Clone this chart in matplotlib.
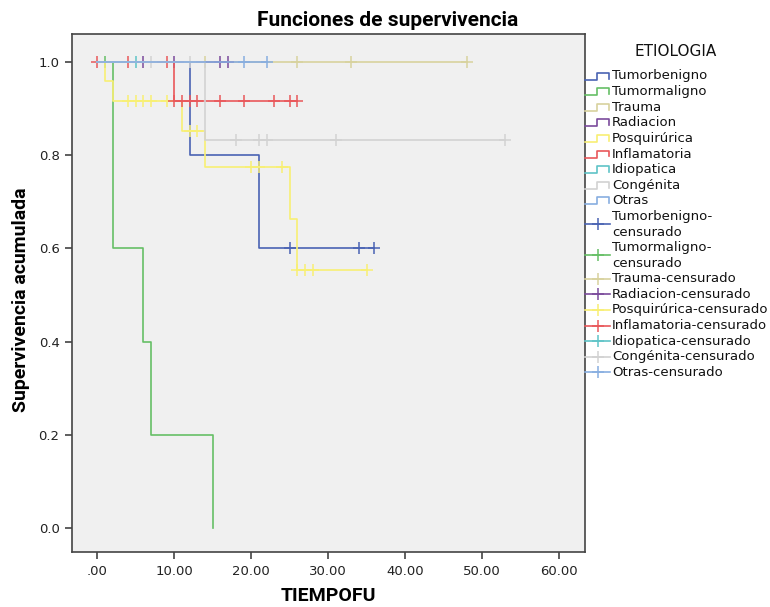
import numpy as np
import matplotlib.pyplot as plt
from matplotlib.lines import Line2D

W, H = 770, 607

groups = ['Tumorbenigno', 'Tumormaligno', 'Trauma', 'Radiacion', 'Posquirúrica',
          'Inflamatoria', 'Idiopatica', 'Congénita', 'Otras']
colors = ['#4a63b3', '#66bf66', '#d8d29e', '#7b4b9c', '#f8ef74',
          '#e9585b', '#5fc4c7', '#d2d2d2', '#88aee0']

# step points of each survival curve (time, survival after that time)
step_t = {
    'Tumorbenigno': [0, 12, 21, 36],
    'Tumormaligno': [0, 2, 6, 7, 15],
    'Trauma': [0, 48],
    'Radiacion': [0, 17],
    'Posquirúrica': [0, 1, 2, 11, 14, 25, 26, 35],
    'Inflamatoria': [0, 10, 26],
    'Idiopatica': [0, 5],
    'Congénita': [0, 14, 53],
    'Otras': [0, 22],
}
step_s = {
    'Tumorbenigno': [1.0, 0.8, 0.6, 0.6],
    'Tumormaligno': [1.0, 0.6, 0.4, 0.2, 0.0],
    'Trauma': [1.0, 1.0],
    'Radiacion': [1.0, 1.0],
    'Posquirúrica': [1.0, 0.9583, 0.9167, 0.8512, 0.7738, 0.6633, 0.5527, 0.5527],
    'Inflamatoria': [1.0, 0.9167, 0.9167],
    'Idiopatica': [1.0, 1.0],
    'Congénita': [1.0, 0.8333, 0.8333],
    'Otras': [1.0, 1.0],
}
# censored times
cens_t = {
    'Tumorbenigno': [25, 34, 36],
    'Tumormaligno': [1],
    'Trauma': [14, 26, 33, 48],
    'Radiacion': [6, 10, 16, 17],
    'Posquirúrica': [4, 5, 6, 7, 9, 12, 13, 20, 21, 24, 26, 27, 28, 35],
    'Inflamatoria': [0, 4, 9, 10, 11, 12, 13, 16, 19, 23, 25, 26],
    'Idiopatica': [5],
    'Congénita': [7, 12, 18, 21, 22, 31, 53],
    'Otras': [19, 22],
}

x_ticks = [0, 10, 20, 30, 40, 50, 60]
x_ticklabels = ['.00', '10.00', '20.00', '30.00', '40.00', '50.00', '60.00']
y_ticks = [0.0, 0.2, 0.4, 0.6, 0.8, 1.0]

legend_cens = ['Tumorbenigno-\ncensurado', 'Tumormaligno-\ncensurado', 'Trauma-censurado',
               'Radiacion-censurado', 'Posquirúrica-censurado', 'Inflamatoria-censurado',
               'Idiopatica-censurado', 'Congénita-censurado', 'Otras-censurado']


def surv_at(ts, ss, t):
    i = np.searchsorted(ts, t, side='right') - 1
    return ss[i]


bold_font = ['Roboto', 'DejaVu Sans']

fig = plt.figure(figsize=(W / 100, H / 100), dpi=100)
ax = fig.add_axes([72 / W, 1 - 552.3 / H, (584.5 - 72) / W, (552.3 - 34.3) / H])
ax.set_facecolor('#f0f0f0')

for g, c in zip(groups, colors):
    ts = np.array(step_t[g], dtype=float)
    ss = np.array(step_s[g])
    ax.plot(ts, ss, drawstyle='steps-post', color=c, lw=1.2)
    ct = np.array(cens_t[g], dtype=float)
    cs = [surv_at(ts, ss, t) for t in ct]
    ax.plot(ct, cs, ls='none', marker='+', ms=9, mew=1.1, color=c)

ax.set_xlim(-3.29, 63.31)
ax.set_ylim(-0.052, 1.0594)
ax.set_xticks(x_ticks)
ax.set_xticklabels(x_ticklabels)
ax.set_yticks(y_ticks)
ax.set_yticklabels(['%.1f' % v for v in y_ticks])
ax.tick_params(direction='out', length=5, width=1.1, color='#333333',
               labelsize=9.5, labelcolor='#222222', pad=4)
for sp in ax.spines.values():
    sp.set_color('#444444')
    sp.set_linewidth(1.2)


def fx(x):
    return x / W


def fy(y):
    return 1 - y / H


fig.text(fx(388), fy(20), 'Funciones de supervivencia', ha='center', va='center',
         fontsize=15, fontweight='bold', family=bold_font)
fig.text(fx(328), fy(596), 'TIEMPOFU', ha='center', va='center',
         fontsize=14, fontweight='bold', family=bold_font)
fig.text(fx(21), fy(300), 'Supervivencia acumulada', ha='center', va='center', rotation=90,
         fontsize=14, fontweight='bold', family=bold_font)

# legend drawn by hand, in pixel units
fig.text(fx(676), fy(51), 'ETIOLOGIA', ha='center', va='center', fontsize=11, color='#111111')

row0, drow = 76, 15.6
row = 0
for g, c in zip(groups, colors):
    yc = row0 + drow * row
    xs = [585, 597, 597, 609, 609]
    ys = [yc + 3.5, yc + 3.5, yc - 3.5, yc - 3.5, yc + 2.5]
    fig.add_artist(Line2D([fx(v) for v in xs], [fy(v) for v in ys], color=c, lw=1.2,
                          transform=fig.transFigure))
    fig.text(fx(612), fy(yc), g, va='center', fontsize=9.5, color='#111111')
    row += 1

for lab, c in zip(legend_cens, colors):
    parts = lab.split('\n')
    ycs = [row0 + drow * (row + k) for k in range(len(parts))]
    ym = np.mean(ycs)
    fig.add_artist(Line2D([fx(585), fx(610)], [fy(ym), fy(ym)], color=c, lw=1.2,
                          transform=fig.transFigure))
    fig.add_artist(Line2D([fx(598)], [fy(ym)], marker='+', ms=9, mew=1.1, color=c,
                          transform=fig.transFigure))
    for p, yc in zip(parts, ycs):
        fig.text(fx(612), fy(yc), p, va='center', fontsize=9.5, color='#111111')
    row += len(parts)

fig.savefig('out.png', dpi=100)
